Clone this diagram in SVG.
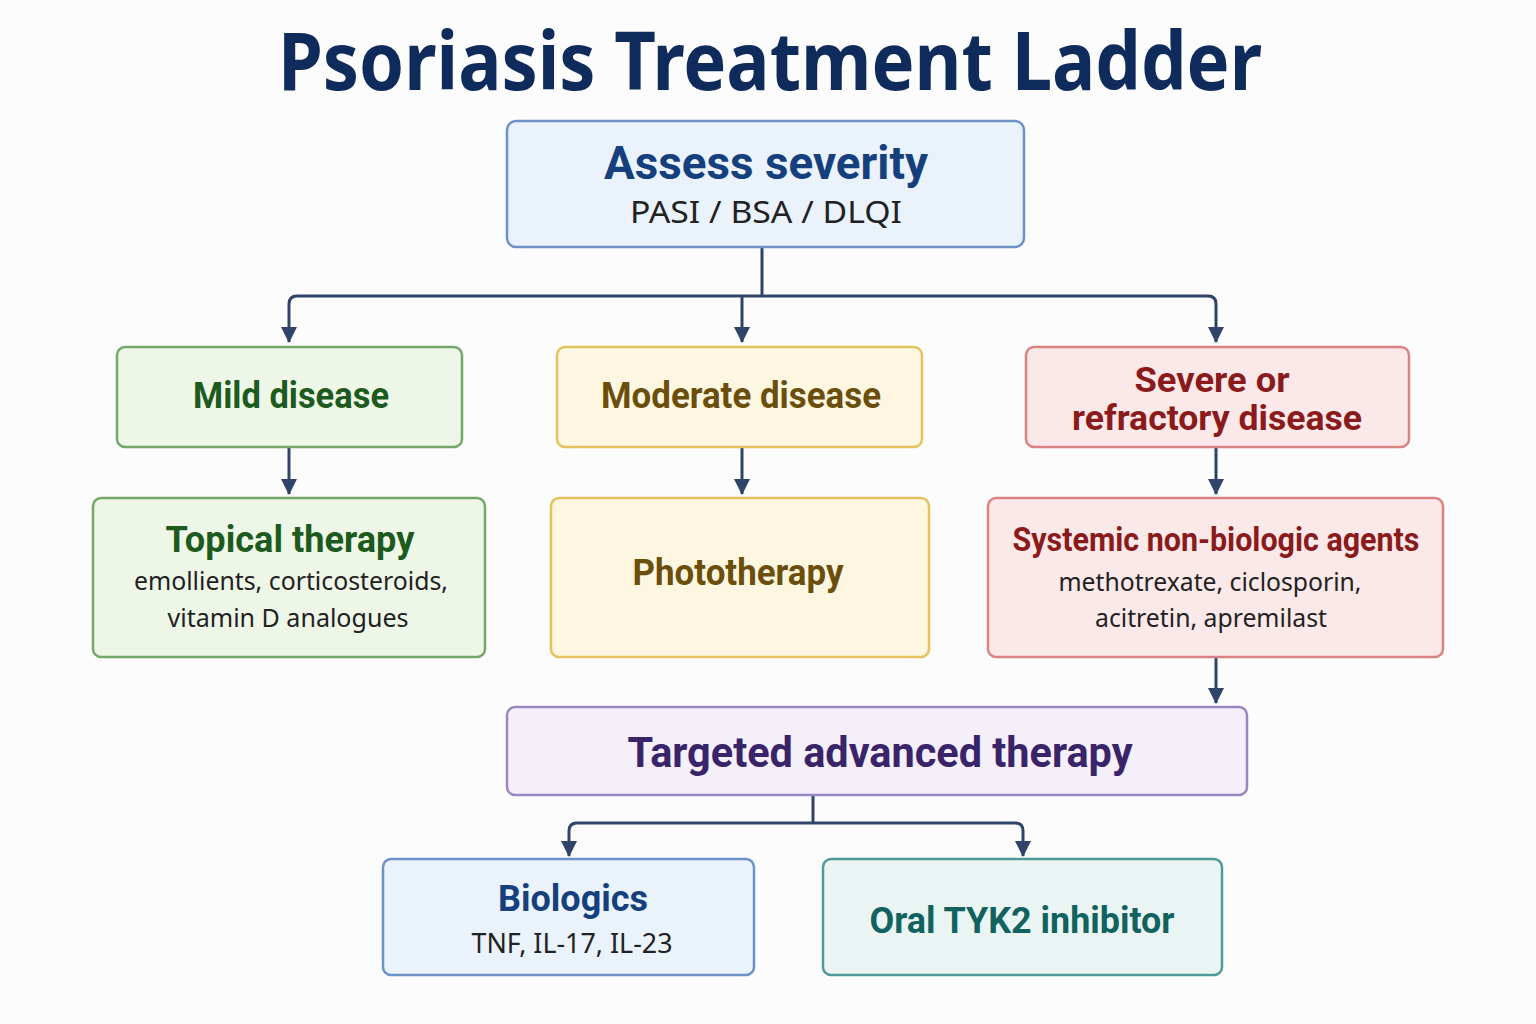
<svg xmlns="http://www.w3.org/2000/svg" width="1536" height="1024" viewBox="0 0 1536 1024">
<defs>
<marker id="arr" markerUnits="userSpaceOnUse" markerWidth="16" markerHeight="16" viewBox="0 0 16 16" refX="15" refY="8" orient="auto">
<path d="M0,0 L16,8 L0,16 Z" fill="#2f4468"/>
</marker>
<style>
.t{font-family:Roboto,"Noto Sans","Liberation Sans",sans-serif;font-weight:700;text-anchor:middle}
.s{font-family:"Noto Sans","Open Sans","Liberation Sans",sans-serif;font-weight:400;text-anchor:middle;fill:#222}
.box{stroke-width:2.5}
.c{fill:none;stroke:#2f4468;stroke-width:3}
</style>
</defs>
<rect width="1536" height="1024" fill="#fcfcfd"/>
<text x="770" y="90" font-family="'Noto Sans','Open Sans',sans-serif" font-weight="700" font-size="80" fill="#0f2b5b" text-anchor="middle" textLength="984" lengthAdjust="spacingAndGlyphs">Psoriasis Treatment Ladder</text>

<g id="connectors">
<path class="c" d="M762,248 V296"/>
<path class="c" d="M297,296 H1208 Q1216,296 1216,304 V342" marker-end="url(#arr)"/>
<path class="c" d="M297,296 Q289,296 289,304 V342" marker-end="url(#arr)"/>
<path class="c" d="M742,296 V342" marker-end="url(#arr)"/>
<path class="c" d="M289,448 V494" marker-end="url(#arr)"/>
<path class="c" d="M742,448 V494" marker-end="url(#arr)"/>
<path class="c" d="M1216,448 V494" marker-end="url(#arr)"/>
<path class="c" d="M1216,658 V703" marker-end="url(#arr)"/>
<path class="c" d="M813,796 V823"/>
<path class="c" d="M577,823 H1015 Q1023,823 1023,831 V856" marker-end="url(#arr)"/>
<path class="c" d="M577,823 Q569,823 569,831 V856" marker-end="url(#arr)"/>
</g>

<g id="assess">
<rect class="box" x="507" y="121" width="517" height="126" rx="9" fill="#eaf2fb" stroke="#6d92c9"/>
<text class="t" x="766" y="179" font-size="46" fill="#163f7e" textLength="324" lengthAdjust="spacingAndGlyphs">Assess severity</text>
<text class="s" x="766" y="223" font-size="31" textLength="272" lengthAdjust="spacingAndGlyphs">PASI / BSA / DLQI</text>
</g>

<g id="mild">
<rect class="box" x="117" y="347" width="345" height="100" rx="8" fill="#eef6e8" stroke="#74a86a"/>
<text class="t" x="291" y="408" font-size="36" fill="#1d5a1d" textLength="196" lengthAdjust="spacingAndGlyphs">Mild disease</text>
</g>

<g id="moderate">
<rect class="box" x="557" y="347" width="365" height="100" rx="8" fill="#fdf7e1" stroke="#e4c35e"/>
<text class="t" x="741" y="408" font-size="36" fill="#6b4e0c" textLength="280" lengthAdjust="spacingAndGlyphs">Moderate disease</text>
</g>

<g id="severe">
<rect class="box" x="1026" y="347" width="383" height="100" rx="8" fill="#fbe8e8" stroke="#d98383"/>
<text class="t" x="1212" y="392" font-size="35" fill="#8a1a1c" textLength="155" lengthAdjust="spacingAndGlyphs">Severe or</text>
<text class="t" x="1217" y="430" font-size="35" fill="#8a1a1c" textLength="290" lengthAdjust="spacingAndGlyphs">refractory disease</text>
</g>

<g id="topical">
<rect class="box" x="93" y="498" width="392" height="159" rx="8" fill="#eef6e8" stroke="#74a86a"/>
<text class="t" x="290" y="552" font-size="36" fill="#1d5a1d" textLength="249" lengthAdjust="spacingAndGlyphs">Topical therapy</text>
<text class="s" x="291" y="590" font-size="26" textLength="314" lengthAdjust="spacingAndGlyphs">emollients, corticosteroids,</text>
<text class="s" x="288" y="627" font-size="26" textLength="241" lengthAdjust="spacingAndGlyphs">vitamin D analogues</text>
</g>

<g id="photo">
<rect class="box" x="551" y="498" width="378" height="159" rx="8" fill="#fdf7e1" stroke="#e4c35e"/>
<text class="t" x="738" y="585" font-size="37" fill="#6b4e0c" textLength="211" lengthAdjust="spacingAndGlyphs">Phototherapy</text>
</g>

<g id="systemic">
<rect class="box" x="988" y="498" width="455" height="159" rx="8" fill="#fbe8e8" stroke="#d98383"/>
<text class="t" x="1216" y="551" font-size="33" fill="#8a1a1c" textLength="407" lengthAdjust="spacingAndGlyphs">Systemic non-biologic agents</text>
<text class="s" x="1210" y="591" font-size="26" textLength="303" lengthAdjust="spacingAndGlyphs">methotrexate, ciclosporin,</text>
<text class="s" x="1211" y="627" font-size="26" textLength="232" lengthAdjust="spacingAndGlyphs">acitretin, apremilast</text>
</g>

<g id="targeted">
<rect class="box" x="507" y="707" width="740" height="88" rx="8" fill="#f4eff8" stroke="#9a86c0"/>
<text class="t" x="880" y="767" font-size="42" fill="#3a2469" textLength="505" lengthAdjust="spacingAndGlyphs">Targeted advanced therapy</text>
</g>

<g id="biologics">
<rect class="box" x="383" y="859" width="371" height="116" rx="8" fill="#eaf2fb" stroke="#6d92c9"/>
<text class="t" x="573" y="911" font-size="36" fill="#163f7e" textLength="150" lengthAdjust="spacingAndGlyphs">Biologics</text>
<text class="s" x="572" y="953" font-size="28" textLength="201" lengthAdjust="spacingAndGlyphs">TNF, IL-17, IL-23</text>
</g>

<g id="tyk2">
<rect class="box" x="823" y="859" width="399" height="116" rx="8" fill="#eaf5f3" stroke="#4f9a98"/>
<text class="t" x="1022" y="933" font-size="37" fill="#12625f" textLength="305" lengthAdjust="spacingAndGlyphs">Oral TYK2 inhibitor</text>
</g>
</svg>
